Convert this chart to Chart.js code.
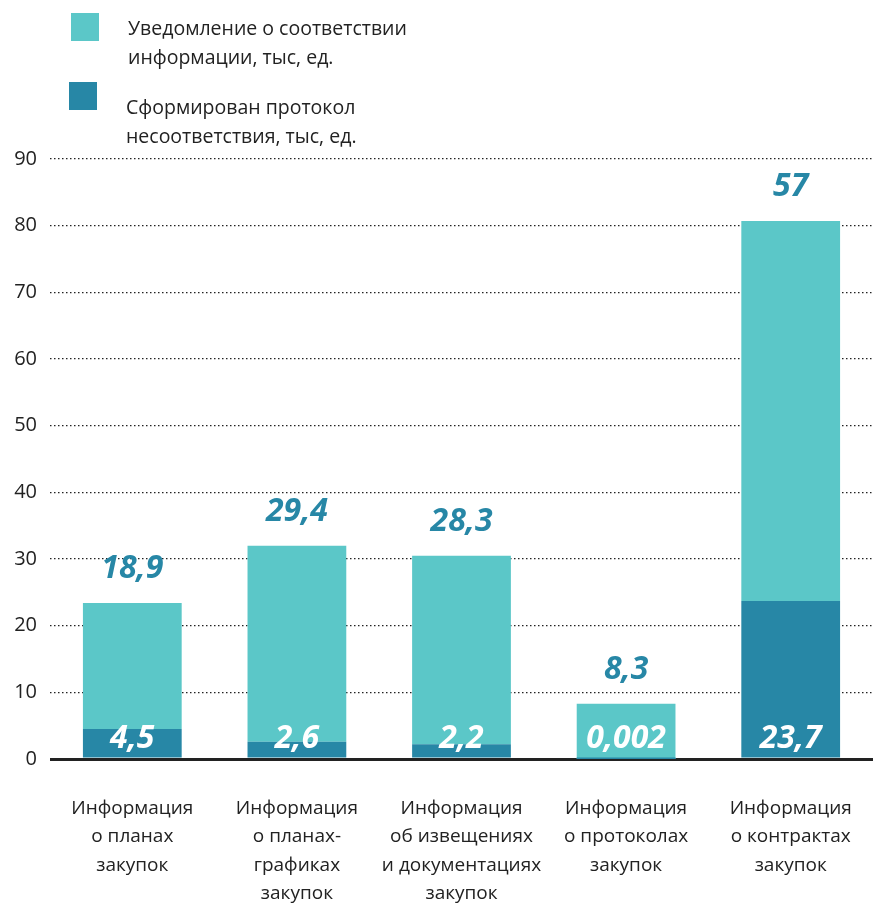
<!DOCTYPE html>
<html>
<head>
<meta charset="utf-8">
<script src="https://cdn.jsdelivr.net/npm/chart.js@4"></script>
<style>
  html, body { margin: 0; padding: 0; background: #fff; }
  #wrap { position: relative; width: 873px; height: 908px; }
  .leg { position: absolute; font-family: "Open Sans", sans-serif; font-size: 19.5px; line-height: 29px; color: #222; }
  .sq { position: absolute; width: 28px; height: 28px; }
</style>
</head>
<body>
<div id="wrap">
  <canvas id="myChart" width="873" height="908"></canvas>
  <div class="sq" style="left:71px;top:13px;background:#5bc7c8"></div>
  <div class="leg" style="left:128px;top:13px">Уведомление о соответствии<br>информации, тыс, ед.</div>
  <div class="sq" style="left:69px;top:82px;background:#2787a6"></div>
  <div class="leg" style="left:126px;top:92px">Сформирован протокол<br>несоответствия, тыс, ед.</div>
</div>
<script>
var categories = [
    ['Информация', 'о планах', 'закупок'],
    ['Информация', 'о планах-', 'графиках', 'закупок'],
    ['Информация', 'об извещениях', 'и документациях', 'закупок'],
    ['Информация', 'о протоколах', 'закупок'],
    ['Информация', 'о контрактах', 'закупок']
]
var protokol = [4.5, 2.6, 2.2, 0.002, 23.7]
var uvedomlenie = [18.9, 29.4, 28.3, 8.3, 57]
var yTicks = [0, 10, 20, 30, 40, 50, 60, 70, 80, 90]

var lightColor = '#5bc7c8'
var darkColor = '#2787a6'

function fmt(v) {
    return String(v).replace('.', ',')
}

const valueLabels = {
    id: 'valueLabels',
    afterDatasetsDraw(chart) {
        var ctx = chart.ctx
        var zero = chart.scales.y.getPixelForValue(0)
        var darkMeta = chart.getDatasetMeta(0)
        var lightMeta = chart.getDatasetMeta(1)
        ctx.save()
        ctx.font = 'italic bold 32px "Open Sans", sans-serif'
        ctx.textAlign = 'center'
        ctx.textBaseline = 'middle'
        lightMeta.data.forEach(function (bar, i) {
            ctx.fillStyle = darkColor
            ctx.fillText(fmt(uvedomlenie[i]), bar.x, bar.y - 34)
        })
        darkMeta.data.forEach(function (bar, i) {
            ctx.fillStyle = '#ffffff'
            ctx.fillText(fmt(protokol[i]), bar.x, zero - 20)
        })
        ctx.restore()
    }
}

const data = {
    labels: categories,
    datasets: [
        {
            label: 'Сформирован протокол несоответствия, тыс, ед.',
            data: protokol,
            backgroundColor: darkColor,
            categoryPercentage: 1,
            barPercentage: 0.6
        },
        {
            label: 'Уведомление о соответствии информации, тыс, ед.',
            data: uvedomlenie,
            backgroundColor: lightColor,
            categoryPercentage: 1,
            barPercentage: 0.6
        }
    ]
}

const config = {
    type: 'bar',
    data: data,
    plugins: [valueLabels],
    options: {
        responsive: false,
        animation: false,
        layout: { padding: { top: 159, left: 0, right: 0, bottom: 0 } },
        plugins: {
            legend: { display: false },
            tooltip: { enabled: false }
        },
        scales: {
            x: {
                stacked: true,
                grid: { display: false, drawTicks: false },
                border: { display: false },
                afterFit: function (axis) {
                    axis.height = 149
                    axis.paddingLeft = 0
                    axis.paddingRight = 0
                },
                ticks: {
                    padding: 35,
                    color: '#222',
                    maxRotation: 0,
                    autoSkip: false,
                    font: { family: '"Open Sans", sans-serif', size: 19, lineHeight: '28.5px' }
                }
            },
            y: {
                stacked: true,
                min: 0,
                max: 90,
                afterBuildTicks: function (axis) {
                    axis.ticks = yTicks.map(function (v) { return { value: v } })
                },
                afterFit: function (axis) {
                    axis.width = 50
                },
                grid: {
                    drawTicks: false,
                    color: '#222',
                    lineWidth: function (c) { return c.tick && c.tick.value === 0 ? 3 : 1.3 }
                },
                border: {
                    display: false,
                    dash: function (c) { return c.tick && c.tick.value === 0 ? [] : [1.5, 2.5] }
                },
                ticks: {
                    padding: 13,
                    color: '#222',
                    font: { family: '"Open Sans", sans-serif', size: 20 }
                }
            }
        }
    }
}

const myChart = new Chart(document.getElementById('myChart'), config)
</script>
</body>
</html>
